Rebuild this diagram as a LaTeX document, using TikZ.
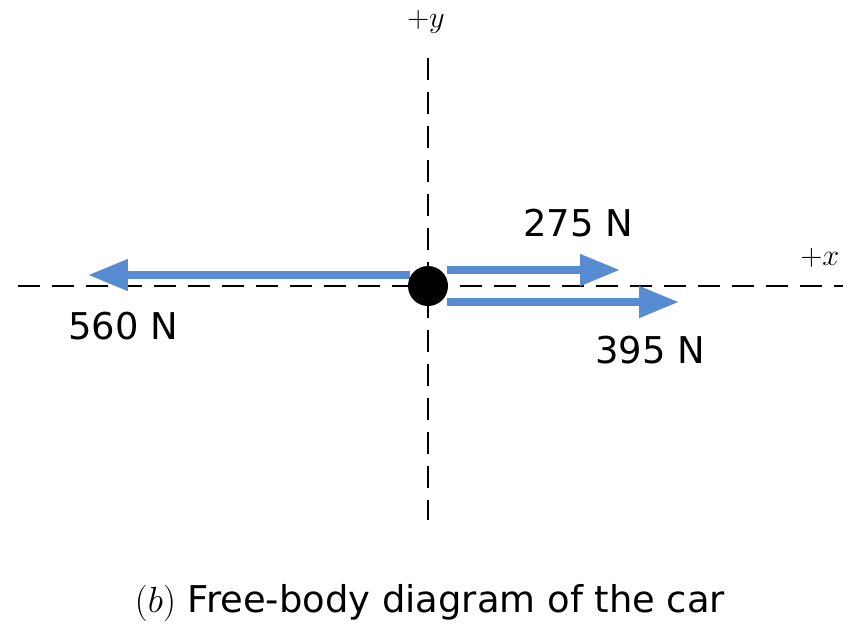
\documentclass[tikz,border=0pt]{standalone}
\usepackage{fontspec}
\setmainfont{DejaVu Sans}
\usetikzlibrary{arrows.meta,positioning}
\usepackage{xcolor}
\definecolor{forceblue}{RGB}{88,140,210}

\begin{document}
\begin{tikzpicture}[
    x=0.02cm, y=-0.02cm,
    axis/.style={draw, line width=1.1pt, dash pattern=on 0.44cm off 0.24cm},
    force/.style={draw=forceblue, line width=4.4pt, -{Triangle[length=0.8cm,width=0.6cm]}},
    lbl/.style={font=\fontsize{21}{25}\selectfont, inner sep=0pt},
    axlbl/.style={font=\fontsize{17}{20}\selectfont, inner sep=0pt}
]
\useasboundingbox (0,0) rectangle (861,627);

\coordinate (ytop) at (428,58);
\coordinate (ybot) at (428,520);
\coordinate (xleft) at (18,286);
\coordinate (xright) at (843,286);

\draw[axis] (ytop) -- (ybot);
\draw[axis] (xleft) -- (xright);

\node[axlbl] (ylabel) at (426,22) {$+y$};
\node[axlbl] (xlabel) at (820,258) {$+x$};

\coordinate (f560s) at (410,275);
\coordinate (f560e) at (88,275);
\coordinate (f275s) at (447,270);
\coordinate (f275e) at (620,270);
\coordinate (f395s) at (447,302);
\coordinate (f395e) at (679,302);

\draw[force] (f560s) -- (f560e);
\draw[force] (f275s) -- (f275e);
\draw[force] (f395s) -- (f395e);

\node[circle, fill=black, minimum size=0.8cm, inner sep=0pt] (car) at (428,286) {};

\node[lbl] (l275) at (578,223) {275 N};
\node[lbl] (l560) at (123,326) {560 N};
\node[lbl] (l395) at (650,350) {395 N};

\node[lbl] (caption) at (430,603) {$(b)$ Free-body diagram of the car};
\end{tikzpicture}
\end{document}
